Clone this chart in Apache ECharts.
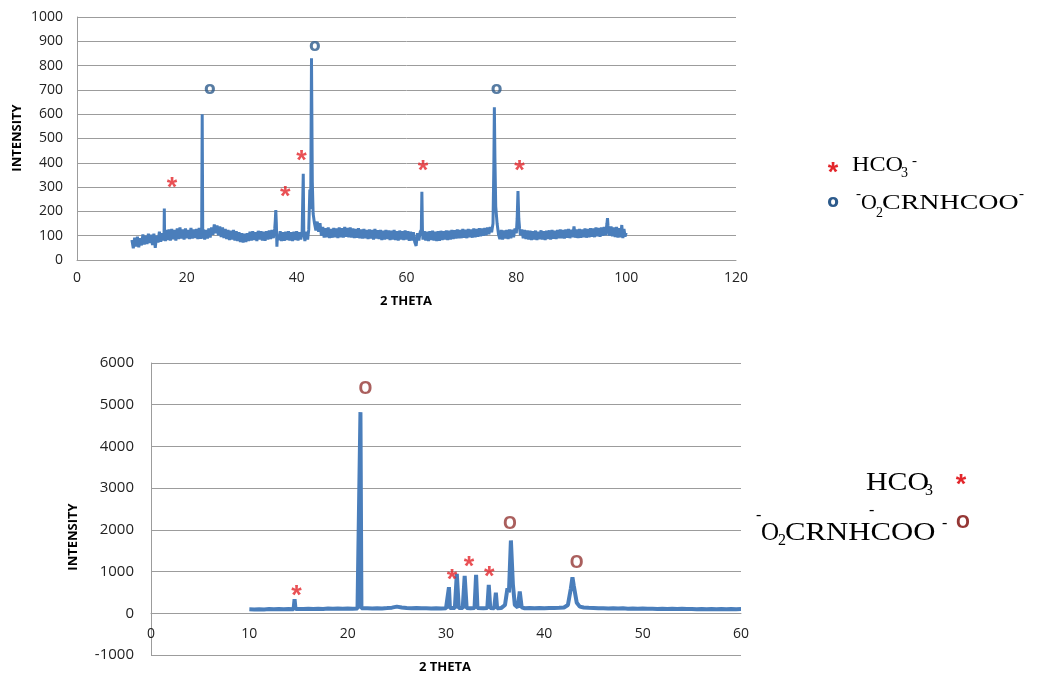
<!DOCTYPE html>
<html>
<head>
<meta charset="utf-8">
<script src="https://cdn.jsdelivr.net/npm/echarts@6/dist/echarts.min.js"></script>
<style>
html,body{margin:0;padding:0;background:#fff;}
#chart{width:1040px;height:674px;}
</style>
</head>
<body>
<div id="chart"></div>
<script>
// ---------- DATA ----------
// Top pattern: [2theta, intensity]
const topPattern = [
[10,82],[10.25,48],[10.5,92],[10.75,55],[11,96],[11.25,52],[11.5,90],[11.75,60],[12,105],[12.25,64],[12.5,100],[12.75,66],
[13,108],[13.25,70],[13.5,104],[13.75,62],[14,108],[14.25,50],[14.5,100],[14.75,72],[15,116],[15.25,75],[15.5,110],[15.75,80],
[15.85,112],[15.9,212],[15.95,100],[16.1,78],[16.25,124],[16.5,82],[16.75,126],[17,80],[17.25,128],[17.5,85],[17.75,124],
[18,80],[18.25,130],[18.5,86],[18.75,134],[19,88],[19.25,126],[19.5,84],[19.75,130],[20,90],[20.25,124],[20.5,86],[20.75,132],
[21,88],[21.25,126],[21.5,90],[21.75,128],[22,86],[22.25,132],[22.5,88],[22.7,112],[22.8,600],[22.9,88],[23,126],[23.25,84],
[23.5,124],[23.75,88],[24,130],[24.25,92],[24.5,134],[24.75,104],[25,146],[25.25,110],[25.5,142],[25.75,102],[26,138],
[26.25,94],[26.5,134],[26.75,90],[27,128],[27.25,86],[27.5,124],[27.75,82],[28,120],[28.25,84],[28.5,124],[28.75,80],
[29,118],[29.25,78],[29.5,114],[29.75,74],[30,110],[30.25,72],[30.5,108],[30.75,74],[31,110],[31.25,78],[31.5,116],[31.75,80],
[32,118],[32.25,82],[32.5,114],[32.75,78],[33,120],[33.25,84],[33.5,118],[33.75,80],[34,116],[34.25,79],[34.5,118],[34.75,84],
[35,122],[35.25,86],[35.5,124],[35.75,90],[36,128],[36.1,160],[36.2,205],[36.3,150],[36.4,55],[36.5,104],[36.75,82],
[37,118],[37.25,78],[37.5,114],[37.75,79],[38,116],[38.25,82],[38.5,118],[38.75,80],[39,114],[39.25,78],[39.5,116],[39.75,82],
[40,118],[40.25,80],[40.5,114],[40.75,84],[41,118],[41.1,120],[41.2,355],[41.3,110],[41.5,78],[41.75,116],[42,84],
[42.2,125],[42.4,290],[42.55,210],[42.7,830],[42.85,320],[43,190],[43.25,150],[43.5,122],[43.75,158],[44,116],[44.25,152],
[44.5,100],[44.75,136],[45,92],[45.25,131],[45.5,94],[45.75,134],[46,90],[46.25,128],[46.5,92],[46.75,132],[47,94],
[47.25,130],[47.5,90],[47.75,134],[48,94],[48.25,131],[48.5,92],[48.75,136],[49,96],[49.25,132],[49.5,94],[49.75,134],
[50,92],[50.25,130],[50.5,90],[50.75,128],[51,92],[51.25,131],[51.5,89],[51.75,126],[52,88],[52.25,128],[52.5,90],[52.75,124],
[53,86],[53.25,126],[53.5,88],[53.75,124],[54,84],[54.25,128],[54.5,88],[54.75,122],[55,86],[55.25,124],[55.5,82],[55.75,121],
[56,84],[56.25,124],[56.5,86],[56.75,122],[57,82],[57.25,120],[57.5,84],[57.75,124],[58,82],[58.25,118],[58.5,80],[58.75,121],
[59,84],[59.25,118],[59.5,82],[59.75,122],[60,84],[60.25,118],[60.5,79],[60.75,116],[61,80],[61.25,114],[61.5,74],[61.75,58],
[62,110],[62.25,80],[62.5,116],[62.7,125],[62.8,281],[62.9,125],[63,84],[63.25,118],[63.5,80],[63.75,116],[64,78],[64.25,118],
[64.5,82],[64.75,121],[65,80],[65.25,116],[65.5,78],[65.75,118],[66,79],[66.25,120],[66.5,82],[66.75,118],[67,84],[67.25,122],
[67.5,82],[67.75,120],[68,84],[68.25,124],[68.5,86],[68.75,122],[69,88],[69.25,126],[69.5,89],[69.75,124],[70,90],[70.25,128],
[70.5,92],[70.75,124],[71,90],[71.25,128],[71.5,94],[71.75,126],[72,92],[72.25,130],[72.5,94],[72.75,128],[73,96],[73.25,131],
[73.5,98],[73.75,130],[74,100],[74.25,132],[74.5,102],[74.75,134],[75,106],[75.25,136],[75.5,114],[75.75,150],[75.9,380],
[76.0,629],[76.1,420],[76.25,220],[76.5,150],[76.75,106],[77,86],[77.25,124],[77.5,84],[77.75,122],[78,88],[78.25,124],
[78.5,86],[78.75,126],[79,90],[79.25,124],[79.5,94],[79.75,130],[80,110],[80.15,170],[80.3,284],[80.45,170],[80.6,128],
[80.75,102],[81,126],[81.25,89],[81.5,124],[81.75,86],[82,121],[82.25,84],[82.5,120],[82.75,82],[83,118],[83.25,84],[83.5,121],
[83.75,82],[84,116],[84.25,86],[84.5,122],[84.75,84],[85,118],[85.25,82],[85.5,120],[85.75,86],[86,122],[86.25,84],[86.5,124],
[86.75,88],[87,120],[87.25,86],[87.5,124],[87.75,89],[88,126],[88.25,90],[88.5,124],[88.75,88],[89,126],[89.25,92],[89.5,128],
[89.75,90],[90,124],[90.25,94],[90.5,138],[90.75,92],[91,126],[91.25,90],[91.5,128],[91.75,92],[92,126],[92.25,94],[92.5,130],
[92.75,92],[93,128],[93.25,94],[93.5,131],[93.75,96],[94,130],[94.25,94],[94.5,134],[94.75,98],[95,132],[95.25,96],
[95.5,134],[95.75,100],[96,136],[96.25,102],[96.5,150],[96.6,172],[96.7,140],[96.9,100],[97.25,138],[97.5,98],[97.75,134],
[98,94],[98.25,136],[98.5,92],[98.75,131],[99,94],[99.2,144],[99.4,90],[99.6,128],[99.8,96],[100,112]
];
const topStars = [[17.3,323],[37.9,286],[40.9,432],[63.0,394],[80.6,394]];
const topRings = [[24.2,696],[43.3,875],[76.4,696]];

// Bottom pattern: [2theta, intensity]
const bottomPattern = [
[10,95],[10.5,90],[11,98],[11.5,92],[12,100],[12.5,95],[13,102],[13.5,96],[14,104],[14.5,98],[14.6,336],[14.7,100],
[15,105],[15.5,100],[16,108],[16.5,102],[17,110],[17.5,104],[18,112],[18.5,106],[19,114],[19.5,108],[20,115],
[20.5,110],[21,116],[21.2,120],[21.3,4822],[21.4,118],[21.5,112],[22,118],[22.5,112],[23,120],[23.5,116],[24,125],
[24.5,135],[25,160],[25.5,140],[26,128],[26.5,120],[27,125],[27.5,118],[28,122],[28.5,116],[29,120],[29.5,115],
[30,118],[30.2,130],[30.3,625],[30.4,125],[30.9,125],[31.1,945],[31.3,125],[31.7,125],[31.9,897],[32.1,125],
[32.5,120],[32.9,125],[33.06,920],[33.2,125],[33.8,120],[34.2,125],[34.35,681],[34.5,125],[34.9,120],[35.07,496],
[35.2,120],[35.6,125],[36.0,200],[36.25,600],[36.4,500],[36.6,1746],[36.8,700],[37.0,200],[37.3,140],[37.5,522],
[37.7,140],[38,120],[38.5,125],[39,118],[39.5,125],[40,120],[40.5,128],[41,125],[41.5,130],[42,140],[42.4,200],
[42.7,600],[42.86,865],[43.0,650],[43.3,250],[43.6,160],[44,140],[44.5,130],[45,125],[45.5,118],[46,122],[46.5,115],
[47,120],[47.5,112],[48,118],[48.5,110],[49,115],[49.5,108],[50,112],[50.5,106],[51,110],[51.5,104],[52,108],
[52.5,102],[53,108],[53.5,100],[54,106],[54.5,100],[55,105],[55.5,98],[56,104],[56.5,96],[57,102],[57.5,98],
[58,104],[58.5,96],[59,102],[59.5,98],[60,100]
];
const bottomStars = [[14.8,560],[30.6,962],[32.35,1265],[34.4,1025]];
const bottomOs = [[21.8,5385],[36.5,2147],[43.3,1218]];

// Axis ranges / tick settings
const topX = {min:0, max:120, interval:20};
const topY = {min:0, max:1000, interval:100};
const botX = {min:0, max:60, interval:10};
const botY = {min:-1000, max:6000, interval:1000};

// Texts
const axisTitleX = '2 THETA';
const axisTitleY = 'INTENSITY';

// ---------- STYLE ----------
const LINE = '#4a7ebb';
const GRID = '#9c9c9c';
const RED = '#e3262b';
const RING = '#2d5b8c';
const BROWN = '#953735';
const LBL = {color:'#222', fontFamily:'Open Sans', fontSize:13, formatter:function(v){return String(v);}};

const chart = echarts.init(document.getElementById('chart'), null, {renderer:'canvas'});

function xAx(gi, r, margin, fs, offset){
  return {type:'value', gridIndex:gi, min:r.min, max:r.max, interval:r.interval, offset:offset,
    axisLine:{show:true, onZero:false, lineStyle:{color:GRID, width:1}},
    axisTick:{show:false}, splitLine:{show:false},
    axisLabel:Object.assign({}, LBL, {fontSize:fs, margin:margin})};
}
function yAx(gi, r, margin, fs){
  return {type:'value', gridIndex:gi, min:r.min, max:r.max, interval:r.interval,
    axisLine:{show:true, onZero:false, lineStyle:{color:GRID, width:1}},
    axisTick:{show:false}, splitLine:{show:true, lineStyle:{color:GRID, width:1}},
    axisLabel:Object.assign({}, LBL, {fontSize:fs, margin:margin})};
}
function marks(xi, data, text, lbl){
  return {type:'scatter', xAxisIndex:xi, yAxisIndex:xi, data:data, symbol:'circle', symbolSize:1,
    itemStyle:{color:'rgba(0,0,0,0)'}, silent:true, z:5,
    label:Object.assign({show:true, position:'inside', formatter:text}, lbl)};
}

const starLbl = {fontFamily:'Liberation Sans', fontWeight:'bold', fontSize:27, color:RED, offset:[0,7]};
const ringLbl = {fontFamily:'DejaVu Sans', fontWeight:'bold', fontSize:17, color:RING, offset:[0,-1]};
const oLbl = {fontFamily:'Open Sans', fontWeight:'bold', fontSize:18, color:BROWN, offset:[0,0]};

function T(x,y,text,o){
  return Object.assign({type:'text', x:x, y:y, silent:true,
    style:Object.assign({text:text, fill:'#000', fontFamily:'Liberation Serif', fontSize:22,
      textAlign:'left', textVerticalAlign:'middle'}, o.style||{})}, o.el||{});
}

const graphics = [
  // axis titles
  {type:'text', x:406, y:301, style:{text:axisTitleX, fill:'#000', font:'bold 13px "Open Sans"', textAlign:'center', textVerticalAlign:'middle'}},
  {type:'text', x:17, y:138, rotation:Math.PI/2, style:{text:axisTitleY, fill:'#000', font:'bold 13px "Open Sans"', textAlign:'center', textVerticalAlign:'middle'}},
  {type:'text', x:445, y:667, style:{text:axisTitleX, fill:'#000', font:'bold 13px "Open Sans"', textAlign:'center', textVerticalAlign:'middle'}},
  {type:'text', x:73, y:537, rotation:Math.PI/2, style:{text:axisTitleY, fill:'#000', font:'bold 13px "Open Sans"', textAlign:'center', textVerticalAlign:'middle'}},
  // top legend
  T(833,174,'*',{style:{fill:RED, fontFamily:'Liberation Sans', fontWeight:'bold', fontSize:27, textAlign:'center'}}),
  T(852,165,'HCO',{el:{scaleX:1.1}}),
  T(901,173.5,'3',{style:{fontSize:14}}),
  T(912,161,'-',{style:{fontSize:15}}),
  T(833,203,'o',{style:{fill:RING, fontFamily:'DejaVu Sans', fontWeight:'bold', fontSize:17, textAlign:'center'}}),
  T(856,194,'-',{style:{fontSize:15}}),
  T(861,203,'O',{}),
  T(876,213,'2',{style:{fontSize:14}}),
  T(882,203,'CRNHCOO',{el:{scaleX:1.27}}),
  T(1019,194,'-',{style:{fontSize:15}}),
  // bottom legend
  T(866,483,'HCO',{style:{fontSize:26}, el:{scaleX:1.15}}),
  T(925,491,'3',{style:{fontSize:16}}),
  T(869,511,'-',{style:{fontSize:16}}),
  T(961,486,'*',{style:{fill:RED, fontFamily:'Liberation Sans', fontWeight:'bold', fontSize:27, textAlign:'center'}}),
  T(756,516,'-',{style:{fontSize:16}}),
  T(761,533,'O',{style:{fontSize:25}}),
  T(778,541,'2',{style:{fontSize:16}}),
  T(785,533,'CRNHCOO',{style:{fontSize:25}, el:{scaleX:1.23}}),
  T(942,524,'-',{style:{fontSize:16}}),
  T(963,523,'O',{style:{fill:BROWN, fontFamily:'Open Sans', fontWeight:'bold', fontSize:18, textAlign:'center'}})
];

chart.setOption({
  animation:false,
  backgroundColor:'#fff',
  grid:[
    {left:77, top:17, width:659, height:243, containLabel:false, outerBoundsMode:'none'},
    {left:151, top:363, width:590, height:292, containLabel:false, outerBoundsMode:'none'}
  ],
  xAxis:[ xAx(0, topX, 11, 14, 0), xAx(1, botX, 14, 14, -41.7) ],
  yAxis:[ yAx(0, topY, 14, 14), yAx(1, botY, 17, 15) ],
  series:[
    {type:'line', xAxisIndex:0, yAxisIndex:0, data:topPattern, showSymbol:false, symbol:'none',
      lineStyle:{color:LINE, width:3}, silent:true},
    {type:'line', xAxisIndex:1, yAxisIndex:1, data:bottomPattern, showSymbol:false, symbol:'none',
      lineStyle:{color:LINE, width:4}, silent:true},
    marks(0, topStars, '*', starLbl),
    marks(0, topRings, 'o', ringLbl),
    marks(1, bottomStars, '*', starLbl),
    marks(1, bottomOs, 'O', oLbl)
  ],
  graphic:graphics
});
</script>
</body>
</html>
